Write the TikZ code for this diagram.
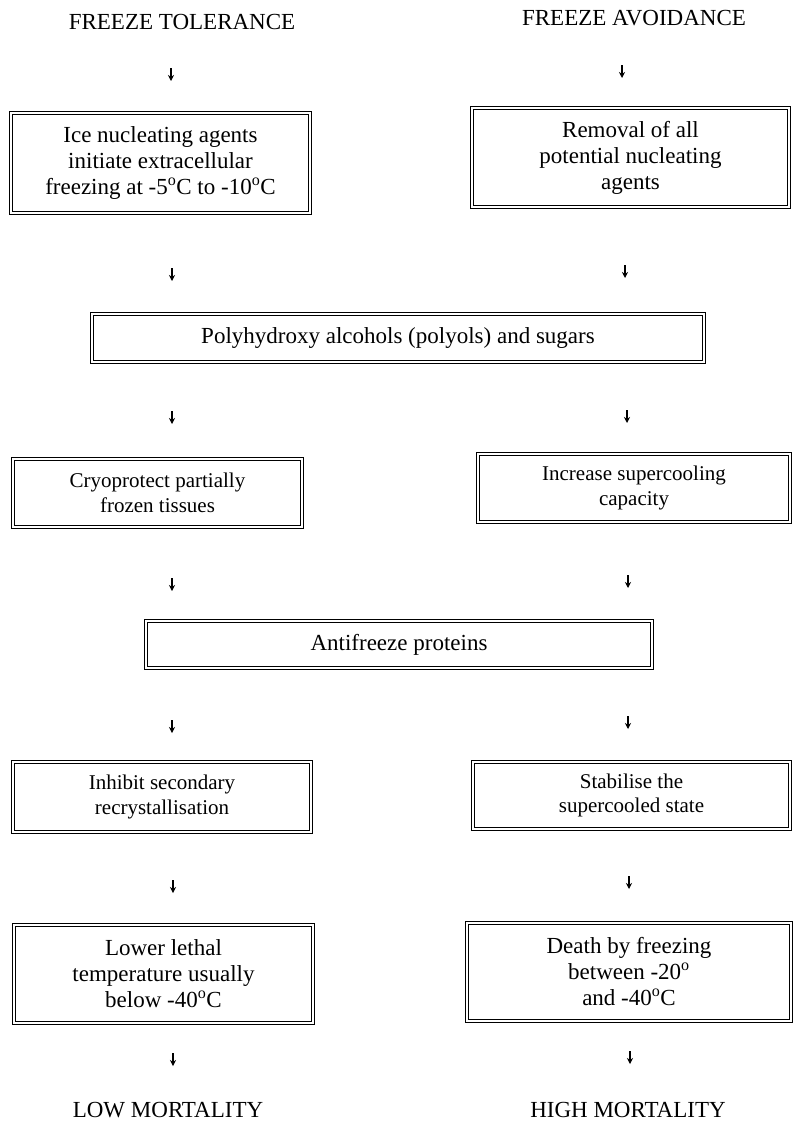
\documentclass[tikz,border=0pt]{standalone}
\usepackage{fontspec}
\setmainfont{Liberation Serif}
\usetikzlibrary{arrows.meta}
\begin{document}
\begin{tikzpicture}[x=1pt,y=-1pt,
  frame/.style={draw=black, double=white, double distance=1.8pt, line width=0.9pt, inner sep=0pt, align=center, text=black},
  big/.style={font=\fontsize{23}{26}\selectfont},
  small/.style={font=\fontsize{21}{24.5}\selectfont},
  head/.style={font=\fontsize{23}{26}\selectfont, inner sep=0pt, text=black},
  arr/.style={-{Stealth[length=6pt,width=6pt]}, line width=1.1pt, draw=black}]
\useasboundingbox[fill=white] (0,0) rectangle (793,1122);

% headers
\node[head] (tol) at (182,22) {FREEZE TOLERANCE};
\node[head] (avo) at (634,18) {FREEZE AVOIDANCE};

% boxes
\node[frame, big, minimum width=299pt, minimum height=100pt] (l1) at (160.5,163)
  {Ice nucleating agents\\ initiate extracellular\\ freezing at -5\textsuperscript{o}C to -10\textsuperscript{o}C};
\node[frame, big, minimum width=317pt, minimum height=99pt] (r1) at (630.5,157.5)
  {Removal of all\\ potential nucleating\\ agents};
\node[frame, big, minimum width=612pt, minimum height=48pt] (poly) at (398,338)
  {Polyhydroxy alcohols (polyols) and sugars};
\node[frame, small, minimum width=289pt, minimum height=68pt] (l2) at (157.5,493)
  {Cryoprotect partially\\ frozen tissues};
\node[frame, small, minimum width=312pt, minimum height=68pt] (r2) at (634,488)
  {Increase supercooling\\ capacity};
\node[frame, big, minimum width=506pt, minimum height=47pt] (afp) at (399,644.5)
  {Antifreeze proteins};
\node[frame, small, minimum width=298pt, minimum height=70pt] (l3) at (162,797)
  {Inhibit secondary\\ recrystallisation};
\node[frame, small, minimum width=317pt, minimum height=67pt] (r3) at (631.5,795.5)
  {Stabilise the\\ supercooled state};
\node[frame, big, minimum width=299pt, minimum height=98pt] (l4) at (163.5,974)
  {Lower lethal\\ temperature usually\\ below -40\textsuperscript{o}C};
\node[frame, big, minimum width=324pt, minimum height=98pt] (r4) at (629,972)
  {Death by freezing\\ between -20\textsuperscript{o}\\ and -40\textsuperscript{o}C};

% footers
\node[head] (low) at (168,1110) {LOW MORTALITY};
\node[head] (high) at (628,1110) {HIGH MORTALITY};

% arrow coordinates
\coordinate (a1s) at (171,68);  \coordinate (a1e) at (171,81);
\coordinate (b1s) at (622,65);  \coordinate (b1e) at (622,78);
\coordinate (a2s) at (172,268); \coordinate (a2e) at (172,281);
\coordinate (b2s) at (625,265); \coordinate (b2e) at (625,278);
\coordinate (a3s) at (172,411); \coordinate (a3e) at (172,424);
\coordinate (b3s) at (627,410); \coordinate (b3e) at (627,423);
\coordinate (a4s) at (172,578); \coordinate (a4e) at (172,591);
\coordinate (b4s) at (628,575); \coordinate (b4e) at (628,588);
\coordinate (a5s) at (172,720); \coordinate (a5e) at (172,733);
\coordinate (b5s) at (628,716); \coordinate (b5e) at (628,729);
\coordinate (a6s) at (173,880); \coordinate (a6e) at (173,893);
\coordinate (b6s) at (629,876); \coordinate (b6e) at (629,889);
\coordinate (a7s) at (173,1053); \coordinate (a7e) at (173,1066);
\coordinate (b7s) at (630,1051); \coordinate (b7e) at (630,1064);

\foreach \k in {a1,b1,a2,b2,a3,b3,a4,b4,a5,b5,a6,b6,a7,b7}
  \draw[arr] (\k s) -- (\k e);
\end{tikzpicture}
\end{document}
